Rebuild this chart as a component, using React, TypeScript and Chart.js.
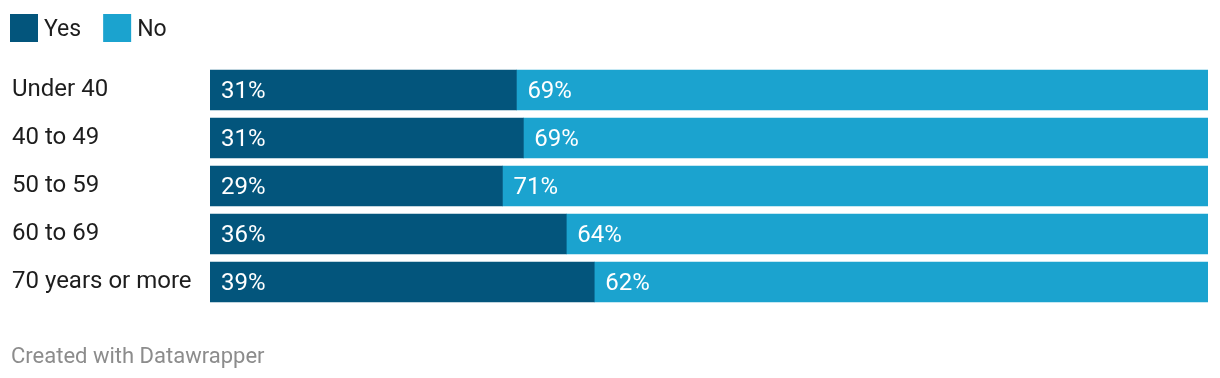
import React, { useEffect, useRef } from "react";
import { Chart, registerables } from "chart.js";

Chart.register(...registerables);

const categories = ["Under 40", "40 to 49", "50 to 59", "60 to 69", "70 years or more"];
const yesValues = [30.7, 31.4, 29.3, 35.7, 38.5];
const noValues = [69.3, 68.6, 70.7, 64.3, 61.5];
const yesLabels = ["31%", "31%", "29%", "36%", "39%"];
const noLabels = ["69%", "69%", "71%", "64%", "62%"];
const seriesNames = ["Yes", "No"];
const seriesColors = ["#03557c", "#1ba3cf"];
const footerText = "Created with Datawrapper";

const FONT = "Roboto, 'Noto Sans', sans-serif";

const overlayPlugin = {
  id: "overlay",
  afterDatasetsDraw(chart: any) {
    const ctx = chart.ctx;
    ctx.save();
    // value labels
    ctx.font = `24px ${FONT}`;
    ctx.fillStyle = "#ffffff";
    ctx.textBaseline = "middle";
    ctx.textAlign = "left";
    const labelSets = [yesLabels, noLabels];
    chart.data.datasets.forEach((ds: any, di: number) => {
      const meta = chart.getDatasetMeta(di);
      meta.data.forEach((bar: any, i: number) => {
        const left = Math.min(bar.x, bar.base);
        ctx.fillText(labelSets[di][i], left + 11, bar.y + 2);
      });
    });
    // category labels
    ctx.fillStyle = "#1d1d1d";
    const meta0 = chart.getDatasetMeta(0);
    meta0.data.forEach((bar: any, i: number) => {
      ctx.fillText(categories[i], 12, bar.y);
    });
    // legend
    let x = 10;
    ctx.font = `23px ${FONT}`;
    seriesNames.forEach((name, i) => {
      ctx.fillStyle = seriesColors[i];
      ctx.fillRect(x, 14, 28, 28);
      ctx.fillStyle = "#1d1d1d";
      ctx.fillText(name, x + 34, 30);
      x += 34 + ctx.measureText(name).width + 22;
    });
    // footer
    ctx.fillStyle = "#8c8c8c";
    ctx.font = `22px ${FONT}`;
    ctx.fillText(footerText, 11, 357);
    ctx.restore();
  },
};

export default function App() {
  const ref = useRef<HTMLCanvasElement>(null);
  useEffect(() => {
    const canvas = ref.current!;
    const chart = new Chart(canvas, {
      type: "bar",
      data: {
        labels: categories,
        datasets: [
          { label: seriesNames[0], data: yesValues, backgroundColor: seriesColors[0], borderWidth: 0, barThickness: 40 },
          { label: seriesNames[1], data: noValues, backgroundColor: seriesColors[1], borderWidth: 0, barThickness: 40 },
        ],
      },
      options: {
        indexAxis: "y",
        responsive: false,
        animation: false,
        layout: { padding: { left: 210, right: 12, top: 66, bottom: 72 } },
        scales: {
          x: { stacked: true, min: 0, max: 100, display: false },
          y: { stacked: true, display: false },
        },
        plugins: { legend: { display: false }, tooltip: { enabled: false } },
      },
      plugins: [overlayPlugin],
    });
    (document as any).fonts?.ready?.then(() => chart.update());
    return () => chart.destroy();
  }, []);
  return (
    <div style={{ position: "absolute", left: 0, top: 0, width: 1220, height: 378, background: "#fff" }}>
      <canvas ref={ref} width={1220} height={378} style={{ display: "block", width: 1220, height: 378 }} />
    </div>
  );
}
